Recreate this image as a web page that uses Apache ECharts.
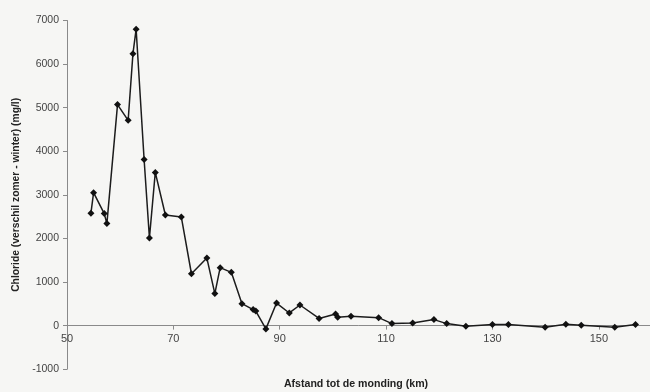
<!DOCTYPE html>
<html>
<head>
<meta charset="utf-8">
<script src="https://cdn.jsdelivr.net/npm/echarts@6/dist/echarts.min.js"></script>
<style>
  html, body { margin: 0; padding: 0; background: #f6f6f4; }
  #chart { width: 650px; height: 392px; }
</style>
</head>
<body>
<div id="chart"></div>
<script>
// afstand tot de monding (km)
var afstand = [54.5, 55.0, 57.0, 57.5, 59.5, 61.5, 62.4, 63.0, 64.5, 65.5,
  66.6, 68.5, 71.5, 73.4, 76.3, 77.8, 78.8, 80.9, 82.9, 85.0,
  85.5, 87.4, 89.4, 91.8, 93.8, 97.4, 100.5, 100.9, 103.4, 108.6,
  111.1, 115.0, 119.0, 121.4, 125.0, 130.0, 133.0, 139.9, 143.8, 146.7,
  153.0, 156.9];
// chloride, verschil zomer - winter (mg/l)
var chloride = [2580, 3050, 2570, 2340, 5070, 4710, 6240, 6800, 3810, 2010,
  3515, 2537, 2490, 1190, 1550, 734, 1330, 1222, 504, 367,
  335, -75, 518, 290, 473, 165, 265, 190, 215, 183,
  46, 60, 138, 46, -16, 23, 23, -40, 30, 10,
  -40, 23];

var yTicks = { min: -1000, max: 7000, step: 1000 };
var xTicks = { min: 50, max: 160, step: 20 };

var points = [];
for (var i = 0; i < afstand.length; i++) {
  points.push([afstand[i], chloride[i]]);
}

var gridTop = 20.5, gridHeight = 348.7;
// x-as ligt op y = 0: verschuif de as vanaf de onderkant van het grid
var zeroShift = gridHeight * (0 - yTicks.min) / (yTicks.max - yTicks.min);

var chart = echarts.init(document.getElementById('chart'));
var option = {
  backgroundColor: '#f6f6f4',
  animation: false,
  grid: {
    left: 67,
    top: gridTop,
    width: 585,
    height: gridHeight,
    containLabel: false,
    outerBoundsMode: 'none'
  },
  xAxis: {
    type: 'value',
    min: xTicks.min,
    max: xTicks.max,
    interval: xTicks.step,
    offset: -zeroShift,
    name: 'Afstand tot de monding (km)',
    nameLocation: 'middle',
    nameGap: 53,
    nameTextStyle: { fontFamily: 'Liberation Sans', fontWeight: 'bold', fontSize: 10.6, color: '#222', padding: [0, 7, 0, 0] },
    axisLine: { onZero: false, lineStyle: { color: '#8a8a8a', width: 1 } },
    axisTick: { show: true, length: 4, lineStyle: { color: '#8a8a8a' } },
    axisLabel: {
      showMaxLabel: false,
      margin: 8,
      fontFamily: 'Liberation Sans',
      fontSize: 11,
      color: '#444',
      formatter: function (v) { return String(v); }
    },
    splitLine: { show: false }
  },
  yAxis: {
    type: 'value',
    min: yTicks.min,
    max: yTicks.max,
    interval: yTicks.step,
    name: 'Chloride (verschil zomer - winter) (mg/l)',
    nameLocation: 'middle',
    nameGap: 42,
    nameTextStyle: { fontFamily: 'Liberation Sans', fontWeight: 'bold', fontSize: 10.3, color: '#222' },
    axisLine: { show: true, onZero: false, lineStyle: { color: '#8a8a8a', width: 1 } },
    axisTick: { show: true, length: 4, lineStyle: { color: '#8a8a8a' } },
    axisLabel: {
      margin: 8,
      fontFamily: 'Liberation Sans',
      fontSize: 10.5,
      color: '#444',
      formatter: function (v) { return String(v); }
    },
    splitLine: { show: false }
  },
  series: [
    {
      type: 'line',
      data: points,
      symbol: 'diamond',
      symbolSize: 7,
      lineStyle: { color: '#1c1c1c', width: 1.5 },
      itemStyle: { color: '#111' }
    }
  ]
};
chart.setOption(option);
</script>
</body>
</html>
